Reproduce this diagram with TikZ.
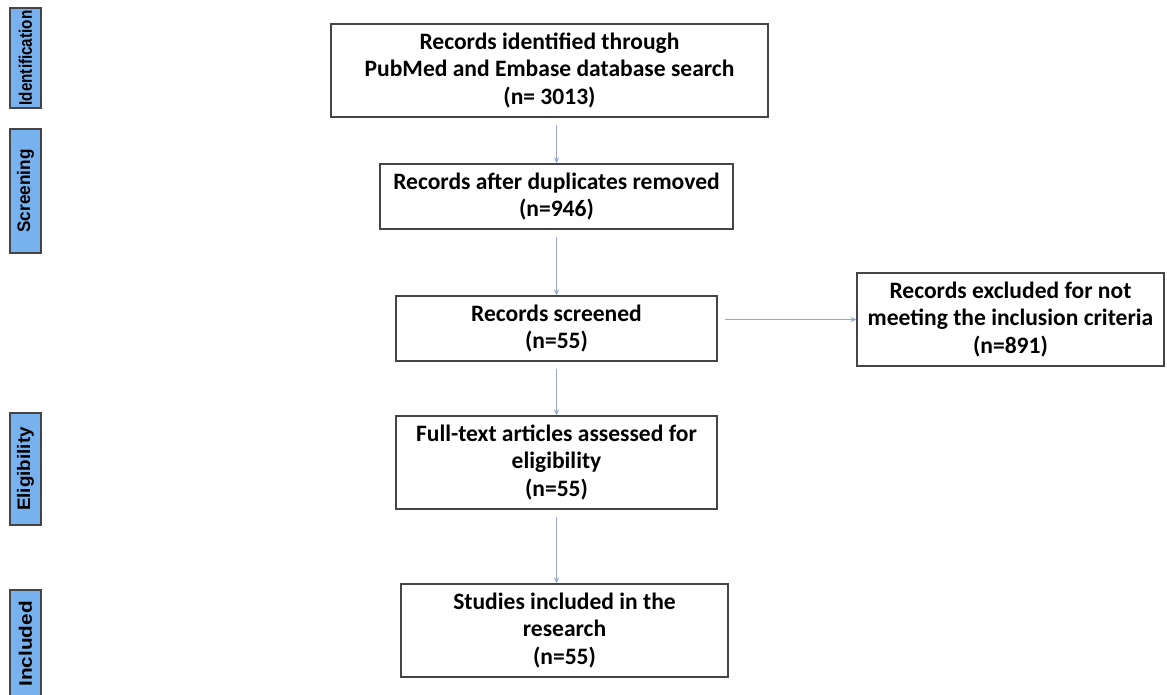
\documentclass[tikz,border=0pt]{standalone}
\usepackage{fontspec}
\setmainfont{Carlito}
\newfontfamily\phasefont{Liberation Sans}
\usepackage{tikz}
\usetikzlibrary{arrows.meta,positioning}
\definecolor{cPhase}{HTML}{78B2EE}
\definecolor{cEdge}{HTML}{454545}
\definecolor{cLink}{HTML}{98A6D2}
\tikzset{
  flowbox/.style={draw=cEdge, line width=0.7pt, fill=white, align=center,
                  font=\fontsize{13.4}{15.8}\selectfont\bfseries, inner sep=2pt},
  phase/.style={draw=cEdge, line width=0.6pt, fill=cPhase, rotate=90,
                font=\phasefont\fontsize{10.3}{12}\selectfont\bfseries,
                minimum height=0.62cm, inner sep=0pt},
  link/.style={-{Stealth[length=1.2mm,width=1mm]}, line width=0.5pt, draw=cLink,
               shorten <=4pt},
}
\begin{document}
\begin{tikzpicture}[x=0.02cm, y=-0.02cm]
  \useasboundingbox (0,0) rectangle (1167,695);
  % phase labels down the left side
  \node[phase, minimum width=2cm] (pId) at (25.5,58) {\scalebox{0.84}[1]{Identification}};
  \node[phase, minimum width=2.48cm] (pScr) at (25.5,191) {\scalebox{0.95}[1]{Screening}};
  \node[phase, minimum width=2.24cm] (pElig) at (25.5,469) {\scalebox{1.04}[1]{Eligibility}};
  \node[phase, minimum width=2.16cm] (pIncl) at (25.5,644) {\scalebox{1.15}[1]{Included}};
  % main column
  \node[flowbox, minimum width=8.74cm, minimum height=1.86cm] (ident) at (549.5,70.5)
    {Records identified through\\PubMed and Embase database search\\(n= 3013)};
  \node[flowbox, minimum width=7.06cm, minimum height=1.3cm] (dup) at (556.5,196.5)
    {Records after duplicates removed\\(n=946)};
  \node[flowbox, minimum width=6.42cm, minimum height=1.3cm] (scr) at (556.5,328.5)
    {Records screened\\(n=55)};
  \node[flowbox, minimum width=6.42cm, minimum height=1.86cm] (elig) at (556.5,462.5)
    {Full-text articles assessed for\\eligibility\\(n=55)};
  \node[flowbox, minimum width=6.54cm, minimum height=1.86cm] (incl) at (564.5,630.5)
    {Studies included in the\\research\\(n=55)};
  % exclusion branch
  \node[flowbox, minimum width=6.14cm, minimum height=1.86cm] (excl) at (1010.5,319.5)
    {Records excluded for not\\meeting the inclusion criteria\\(n=891)};
  % connectors
  \draw[link] (dup.north |- ident.south) -- (dup.north);
  \draw[link] (dup.south) -- (scr.north);
  \draw[link] (scr.south) -- (elig.north);
  \draw[link] (elig.south) -- (elig.south |- incl.north);
  \draw[link] (scr.east |- excl.west) -- (excl.west);
\end{tikzpicture}
\end{document}
